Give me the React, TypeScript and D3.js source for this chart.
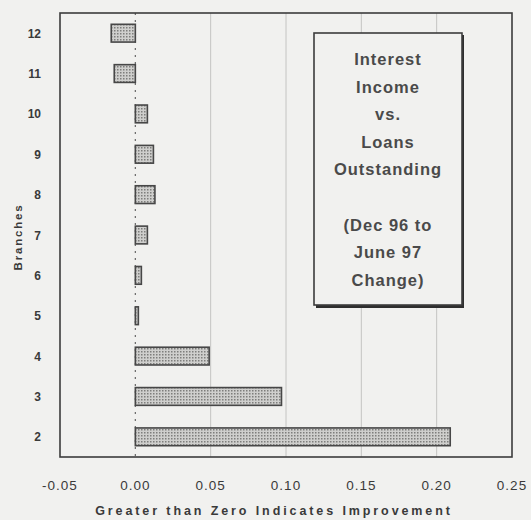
import React from "react";
import * as d3 from "d3";

const branches = ["12", "11", "10", "9", "8", "7", "6", "5", "4", "3", "2"];
const values = [-0.016, -0.014, 0.008, 0.012, 0.013, 0.008, 0.004, 0.002, 0.049, 0.097, 0.209];
const xTicks = [-0.05, 0, 0.05, 0.1, 0.15, 0.2, 0.25];
const boxLines = ["Interest", "Income", "vs.", "Loans", "Outstanding", "", "(Dec 96 to", "June 97", "Change)"];

export default function App() {
  const W = 531, H = 520;
  const left = 60, right = 512, top = 13, bottom = 457;
  const x = d3.scaleLinear().domain([-0.05, 0.25]).range([left, right]);
  const y = d3.scaleBand<string>().domain(branches).range([top, bottom]).paddingInner(0.56).paddingOuter(0.28);
  const fmt = (v: number) => (v < 0 ? "-" : "") + Math.abs(v).toFixed(2);
  const font = "Arial, 'Liberation Sans', sans-serif";
  const ink = "#3a3a3a";
  return (
    <svg width={W} height={H} style={{ position: "absolute", left: 0, top: 0, background: "#f1f1ef" }}>
      <defs>
        <pattern id="dots" width="3" height="3" patternUnits="userSpaceOnUse">
          <rect width="3" height="3" fill="#cfcfcd" />
          <rect width="1.5" height="1.5" fill="#7e7e7c" />
        </pattern>
      </defs>
      <rect width={W} height={H} fill="#f1f1ef" />
      {xTicks.slice(1, -1).map((t) =>
        t === 0 ? null : (
          <line key={t} x1={x(t)} x2={x(t)} y1={top} y2={bottom} stroke="#c4c4c2" strokeWidth={1} />
        )
      )}
      <line x1={x(0)} x2={x(0)} y1={top} y2={bottom} stroke="#666" strokeWidth={1.2} strokeDasharray="2,5" />
      {branches.map((b, i) => {
        const v = values[i];
        const x0 = Math.min(x(0), x(v));
        const w = Math.max(Math.abs(x(v) - x(0)), 3);
        return (
          <rect key={b} x={x0} y={y(b)} width={w} height={y.bandwidth()} fill="url(#dots)" stroke="#474747" strokeWidth={1.6} />
        );
      })}
      <rect x={left} y={top} width={right - left} height={bottom - top} fill="none" stroke="#3c3c3c" strokeWidth={1.6} />
      {branches.map((b) => (
        <text key={b} x={41} y={(y(b) as number) + y.bandwidth() / 2 + 4.5} textAnchor="end" fontFamily={font} fontSize={12} fontWeight="bold" fill={ink}>
          {b}
        </text>
      ))}
      <text transform={`translate(22,237) rotate(-90)`} textAnchor="middle" fontFamily={font} fontSize={11.5} fontWeight="bold" fill={ink} letterSpacing={1.8}>
        Branches
      </text>
      {xTicks.map((t) => (
        <text key={t} x={x(t)} y={490} textAnchor="middle" fontFamily={font} fontSize={13.5} fill={ink} letterSpacing={1}>
          {fmt(t)}
        </text>
      ))}
      <text x={274} y={515} textAnchor="middle" fontFamily={font} fontSize={12.5} fontWeight="bold" fill={ink} letterSpacing={2.9}>
        Greater than Zero Indicates Improvement
      </text>
      <rect x={316} y={35} width={148} height={273} fill="#2e2e2e" />
      <rect x={314} y={33} width={148} height={272} fill="#f1f1ef" stroke="#3c3c3c" strokeWidth={1.6} />
      {boxLines.map((l, i) => (
        <text key={i} x={388} y={65 + i * 27.6} textAnchor="middle" fontFamily={font} fontSize={16.5} fontWeight="bold" fill="#4a4a4a" letterSpacing={1}>
          {l}
        </text>
      ))}
    </svg>
  );
}
